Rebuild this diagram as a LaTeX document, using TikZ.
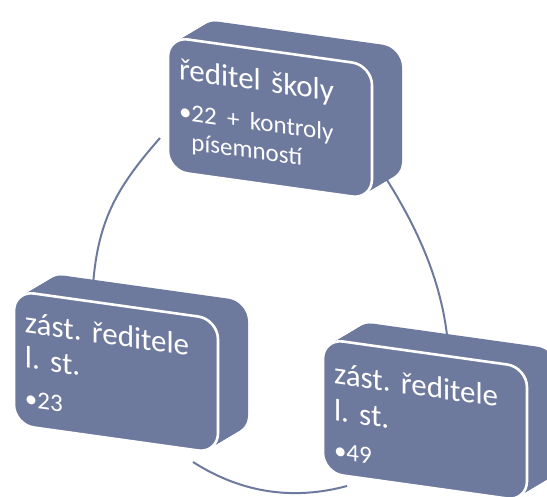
\documentclass[tikz,border=0pt]{standalone}
\usepackage{fontspec}
\setmainfont{Carlito}
\frenchspacing
\definecolor{slate}{RGB}{110,121,158}

\tikzset{
  face/.style={rectangle, rounded corners=10pt, fill=slate, draw=white,
    line width=1.3pt, minimum width=102pt, minimum height=67pt,
    text width=91pt, inner sep=0pt, align=left, text=white,
    font=\fontsize{15.5}{17.5}\selectfont, transform shape},
  slab/.style={fill=slate, rounded corners=10pt},
  ring/.style={draw=slate, line width=1pt},
}
\newcommand{\itemsize}{\fontsize{12.5}{15}\selectfont}

\begin{document}
\begin{tikzpicture}[x=0.5pt, y=-0.5pt]
  \clip (0,0) rectangle (547,497);

  % pieces of the ring between the boxes
  \coordinate (a1) at (160,138);
  \coordinate (a2) at (93,285);
  \coordinate (b1) at (193,462);
  \coordinate (b2) at (347,486);
  \coordinate (c1) at (387,180);
  \coordinate (c2) at (448,345);
  \draw[ring] (a1) .. controls (117,187) and (98,220) .. (a2);
  \draw[ring] (b1) .. controls (243,494) and (295,500) .. (b2);
  \draw[ring] (c1) .. controls (419,231) and (443,285) .. (c2);

  % top box
  \begin{scope}[shift={(270,118)}, yslant=-0.14]
    \foreach \d in {1,...,15}
      \fill[slab] (-102+2*\d,-67-1.47*\d) rectangle +(204,134);
    \node[face, font=\fontsize{15.5}{20}\selectfont] (top) at (0,0) {ředitel školy\\
      {\itemsize\textbullet22 + kontroly}\\[-5.5pt]
      {\itemsize\phantom{\textbullet}písemností}};
  \end{scope}

  % left box
  \begin{scope}[shift={(116,372)}, yslant=-0.14]
    \foreach \d in {1,...,15}
      \fill[slab] (-102+2*\d,-67-1.47*\d) rectangle +(204,134);
    \node[face] (left) at (0,0) {zást. ředitele\\l. st.\\[2pt]
      {\itemsize\textbullet23}};
  \end{scope}

  % right box
  \begin{scope}[shift={(425,420)}, yslant=-0.14]
    \foreach \d in {1,...,15}
      \fill[slab] (-102+2*\d,-67-1.47*\d) rectangle +(204,134);
    \node[face, font=\fontsize{15.5}{18.5}\selectfont] (right) at (0,0)
      {\rule{0pt}{14pt}zást. ředitele\\l. st.\\[0.5pt]
      {\itemsize\textbullet49}};
  \end{scope}
\end{tikzpicture}
\end{document}
